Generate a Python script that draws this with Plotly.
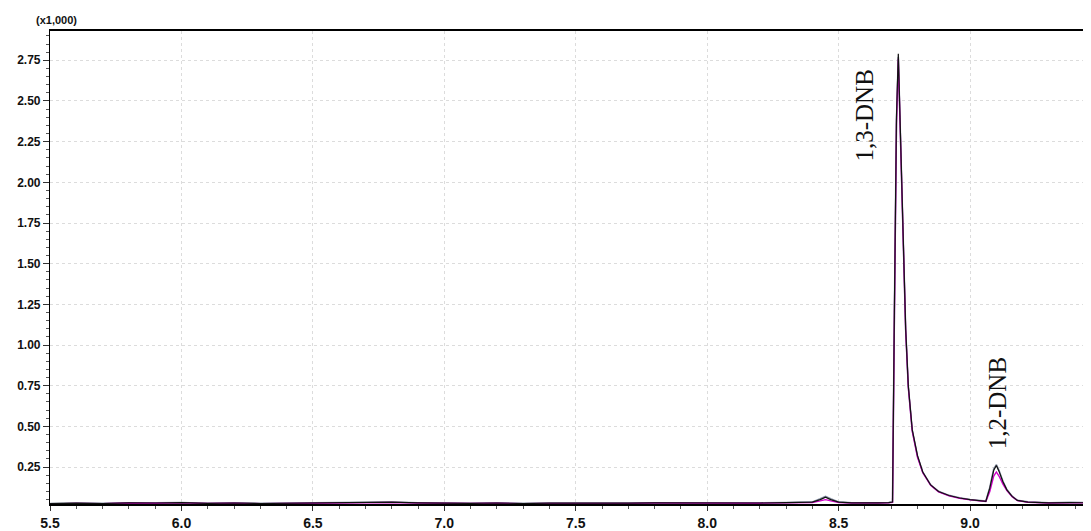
import plotly.graph_objects as go

# retention time (min) and intensity (x1,000)
rt = [5.50, 5.60, 5.70, 5.80, 5.90, 6.00, 6.10, 6.20, 6.30, 6.40, 6.50, 6.60, 6.70,
      6.80, 6.90, 7.00, 7.10, 7.20, 7.30, 7.40, 7.50, 7.60, 7.70, 7.80, 7.90, 8.00,
      8.10, 8.20, 8.30, 8.40, 8.43, 8.45, 8.47, 8.50, 8.55, 8.60, 8.65, 8.69, 8.705,
      8.712, 8.720, 8.727, 8.735, 8.745, 8.755, 8.765, 8.780, 8.800, 8.820, 8.850,
      8.880, 8.920, 8.960, 9.000, 9.040, 9.060, 9.075, 9.090, 9.100, 9.110, 9.125,
      9.140, 9.160, 9.180, 9.220, 9.300, 9.380, 9.460]

sig_black = [0.025, 0.028, 0.026, 0.030, 0.029, 0.031, 0.027, 0.029, 0.026, 0.028, 0.030, 0.033, 0.031,
             0.034, 0.030, 0.028, 0.027, 0.029, 0.026, 0.028, 0.027, 0.029, 0.028, 0.030, 0.029, 0.028,
             0.027, 0.029, 0.031, 0.035, 0.050, 0.065, 0.050, 0.035, 0.030, 0.028, 0.030, 0.031, 0.035,
             1.200, 2.400, 2.790, 2.300, 1.600, 1.100, 0.750, 0.480, 0.320, 0.220, 0.140,
             0.100, 0.075, 0.060, 0.050, 0.042, 0.040, 0.120, 0.230, 0.260, 0.225, 0.160,
             0.110, 0.070, 0.045, 0.035, 0.030, 0.032, 0.030]

sig_magenta = [0.024, 0.027, 0.025, 0.029, 0.028, 0.030, 0.026, 0.028, 0.025, 0.027, 0.029, 0.031, 0.030,
               0.032, 0.029, 0.027, 0.026, 0.028, 0.025, 0.027, 0.026, 0.028, 0.027, 0.029, 0.028, 0.027,
               0.026, 0.028, 0.030, 0.032, 0.042, 0.050, 0.042, 0.032, 0.029, 0.027, 0.029, 0.030, 0.033,
               1.150, 2.350, 2.760, 2.280, 1.580, 1.090, 0.740, 0.470, 0.310, 0.215, 0.138,
               0.098, 0.073, 0.058, 0.048, 0.040, 0.038, 0.100, 0.195, 0.220, 0.195, 0.145,
               0.105, 0.068, 0.044, 0.034, 0.029, 0.031, 0.029]

sig_gray = [0.026, 0.029, 0.027, 0.031, 0.030, 0.032, 0.028, 0.030, 0.027, 0.029, 0.031, 0.034, 0.032,
            0.035, 0.031, 0.029, 0.028, 0.030, 0.027, 0.029, 0.028, 0.030, 0.029, 0.031, 0.030, 0.029,
            0.028, 0.030, 0.032, 0.036, 0.055, 0.070, 0.055, 0.036, 0.031, 0.029, 0.031, 0.032, 0.036,
            1.180, 2.380, 2.770, 2.290, 1.590, 1.095, 0.745, 0.475, 0.318, 0.218, 0.141,
            0.101, 0.076, 0.061, 0.051, 0.043, 0.041, 0.125, 0.240, 0.265, 0.230, 0.162,
            0.112, 0.071, 0.046, 0.036, 0.031, 0.033, 0.031]

x_ticks = [5.5, 6.0, 6.5, 7.0, 7.5, 8.0, 8.5, 9.0]
x_tick_text = ["5.5", "6.0", "6.5", "7.0", "7.5", "8.0", "8.5", "9.0"]
y_ticks = [0.25, 0.50, 0.75, 1.00, 1.25, 1.50, 1.75, 2.00, 2.25, 2.50, 2.75]
y_tick_text = ["0.25", "0.50", "0.75", "1.00", "1.25", "1.50", "1.75", "2.00", "2.25", "2.50", "2.75"]

peak_names = ["1,3-DNB", "1,2-DNB"]
peak_label_x = [8.60, 9.105]
peak_label_y = [2.41, 0.64]

fig = go.Figure()
fig.add_trace(go.Scatter(x=rt, y=sig_gray, mode="lines",
                         line=dict(color="#8a94a8", width=1.6), showlegend=False))
fig.add_trace(go.Scatter(x=rt, y=sig_magenta, mode="lines",
                         line=dict(color="#d000c8", width=1.4), showlegend=False))
fig.add_trace(go.Scatter(x=rt, y=sig_black, mode="lines",
                         line=dict(color="#111111", width=1.2), showlegend=False))

for name, lx, ly in zip(peak_names, peak_label_x, peak_label_y):
    fig.add_annotation(x=lx, y=ly, text=name, textangle=-90, showarrow=False,
                       font=dict(family="Liberation Serif, Times New Roman, serif",
                                 size=25, color="#111111"))

fig.add_annotation(xref="paper", yref="paper", x=0, xshift=-16, y=1.0, yshift=3,
                   xanchor="left", yanchor="bottom", text="(x1,000)", showarrow=False,
                   font=dict(family="Liberation Sans, Arial, sans-serif", size=11,
                             color="#111111", weight="bold"))

# page body has an 8px margin; figure sized so the plot sits where the reference has it
fig.update_layout(
    width=1083, height=523,
    margin=dict(l=42, r=0, t=23, b=27),
    paper_bgcolor="white", plot_bgcolor="white",
    xaxis=dict(range=[5.5, 9.46], tickvals=x_ticks, ticktext=x_tick_text,
               showline=True, linecolor="black", linewidth=1.5, mirror=True,
               ticks="outside", ticklen=5, tickcolor="#333333",
               showgrid=True, gridcolor="#dcdcdc", griddash="dot", gridwidth=1,
               zeroline=False,
               minor=dict(dtick=0.1, tick0=5.5, ticks="outside", ticklen=3,
                          tickcolor="#555555", showgrid=False),
               tickfont=dict(family="Liberation Sans, Arial, sans-serif", size=14,
                             color="#111111", weight="bold")),
    yaxis=dict(range=[0.023, 2.93], tickvals=y_ticks, ticktext=y_tick_text,
               showline=True, linecolor="black", linewidth=1.2, mirror=False,
               ticks="outside", ticklen=6, tickcolor="#333333",
               showgrid=True, gridcolor="#dcdcdc", griddash="dot", gridwidth=1,
               zeroline=False,
               minor=dict(dtick=0.05, tick0=0, ticks="outside", ticklen=3,
                          tickcolor="#555555", showgrid=False),
               tickfont=dict(family="Liberation Sans, Arial, sans-serif", size=12,
                             color="#111111", weight="bold")),
)

fig.write_html("out.html")
